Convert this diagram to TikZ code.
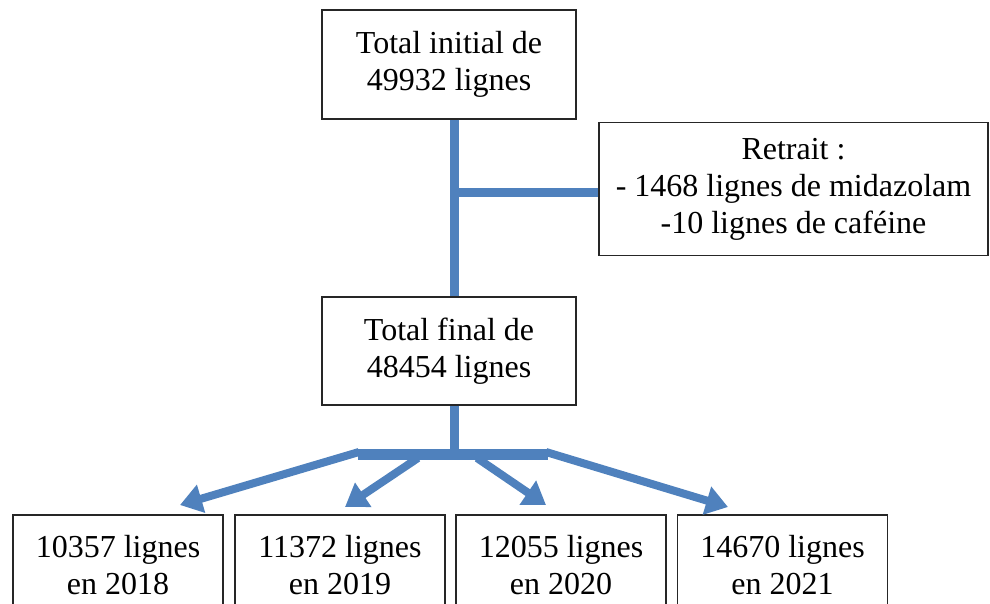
\documentclass[tikz,border=0pt]{standalone}
\usepackage{fontspec}
\setmainfont{Liberation Serif}
\usetikzlibrary{arrows.meta}
\definecolor{flowblue}{HTML}{4F81BD}
\begin{document}
\begin{tikzpicture}[x=1pt,y=-1pt,
  box/.style={draw=black!85, line width=1.2pt, rectangle, align=center,
    font=\fontsize{32}{37}\selectfont, inner sep=0pt},
  stem/.style={draw=flowblue, line width=9pt},
  bar/.style={draw=flowblue, line width=11pt},
  arr/.style={draw=flowblue, line width=8pt, -{Triangle[length=22pt,width=28pt]}, fill=flowblue}]
\clip (0,0) rectangle (990,604);
\node[box, minimum width=254pt, minimum height=109pt] (top) at (449,64.5) {Total initial de\\49932 lignes};
\node[box, minimum width=389pt, minimum height=133pt] (ret) at (793.5,189) {Retrait :\\- 1468 lignes de midazolam\\-10 lignes de caféine};
\node[box, minimum width=254pt, minimum height=108pt] (mid) at (449,351) {Total final de\\48454 lignes};
\node[box, minimum width=210pt, minimum height=100pt] (b1) at (118,565) {10357 lignes\\en 2018};
\node[box, minimum width=210pt, minimum height=100pt] (b2) at (340,565) {11372 lignes\\en 2019};
\node[box, minimum width=210pt, minimum height=100pt] (b3) at (561,565) {12055 lignes\\en 2020};
\node[box, minimum width=210pt, minimum height=100pt] (b4) at (782.5,565) {14670 lignes\\en 2021};
\coordinate (s1) at (454,119.6);
\coordinate (s2) at (454,296.4);
\coordinate (j) at (454,193);
\coordinate (s3) at (454,405.6);
\coordinate (s4) at (454,454);
\coordinate (bl) at (358,454);
\coordinate (br) at (548,454);
\coordinate (a1) at (359,452);
\coordinate (a2) at (418,458);
\coordinate (a3) at (477,458);
\coordinate (a4) at (546,452);
\draw[stem] (s1) -- (s2);
\draw[stem] (j) -- (j -| ret.west);
\draw[stem] (s3) -- (s4);
\draw[bar] (bl) -- (br);
\draw[arr] (a1) -- (180,505);
\draw[arr] (a2) -- (345,507);
\draw[arr] (a3) -- (546,505);
\draw[arr] (a4) -- (728,507);
\end{tikzpicture}
\end{document}
